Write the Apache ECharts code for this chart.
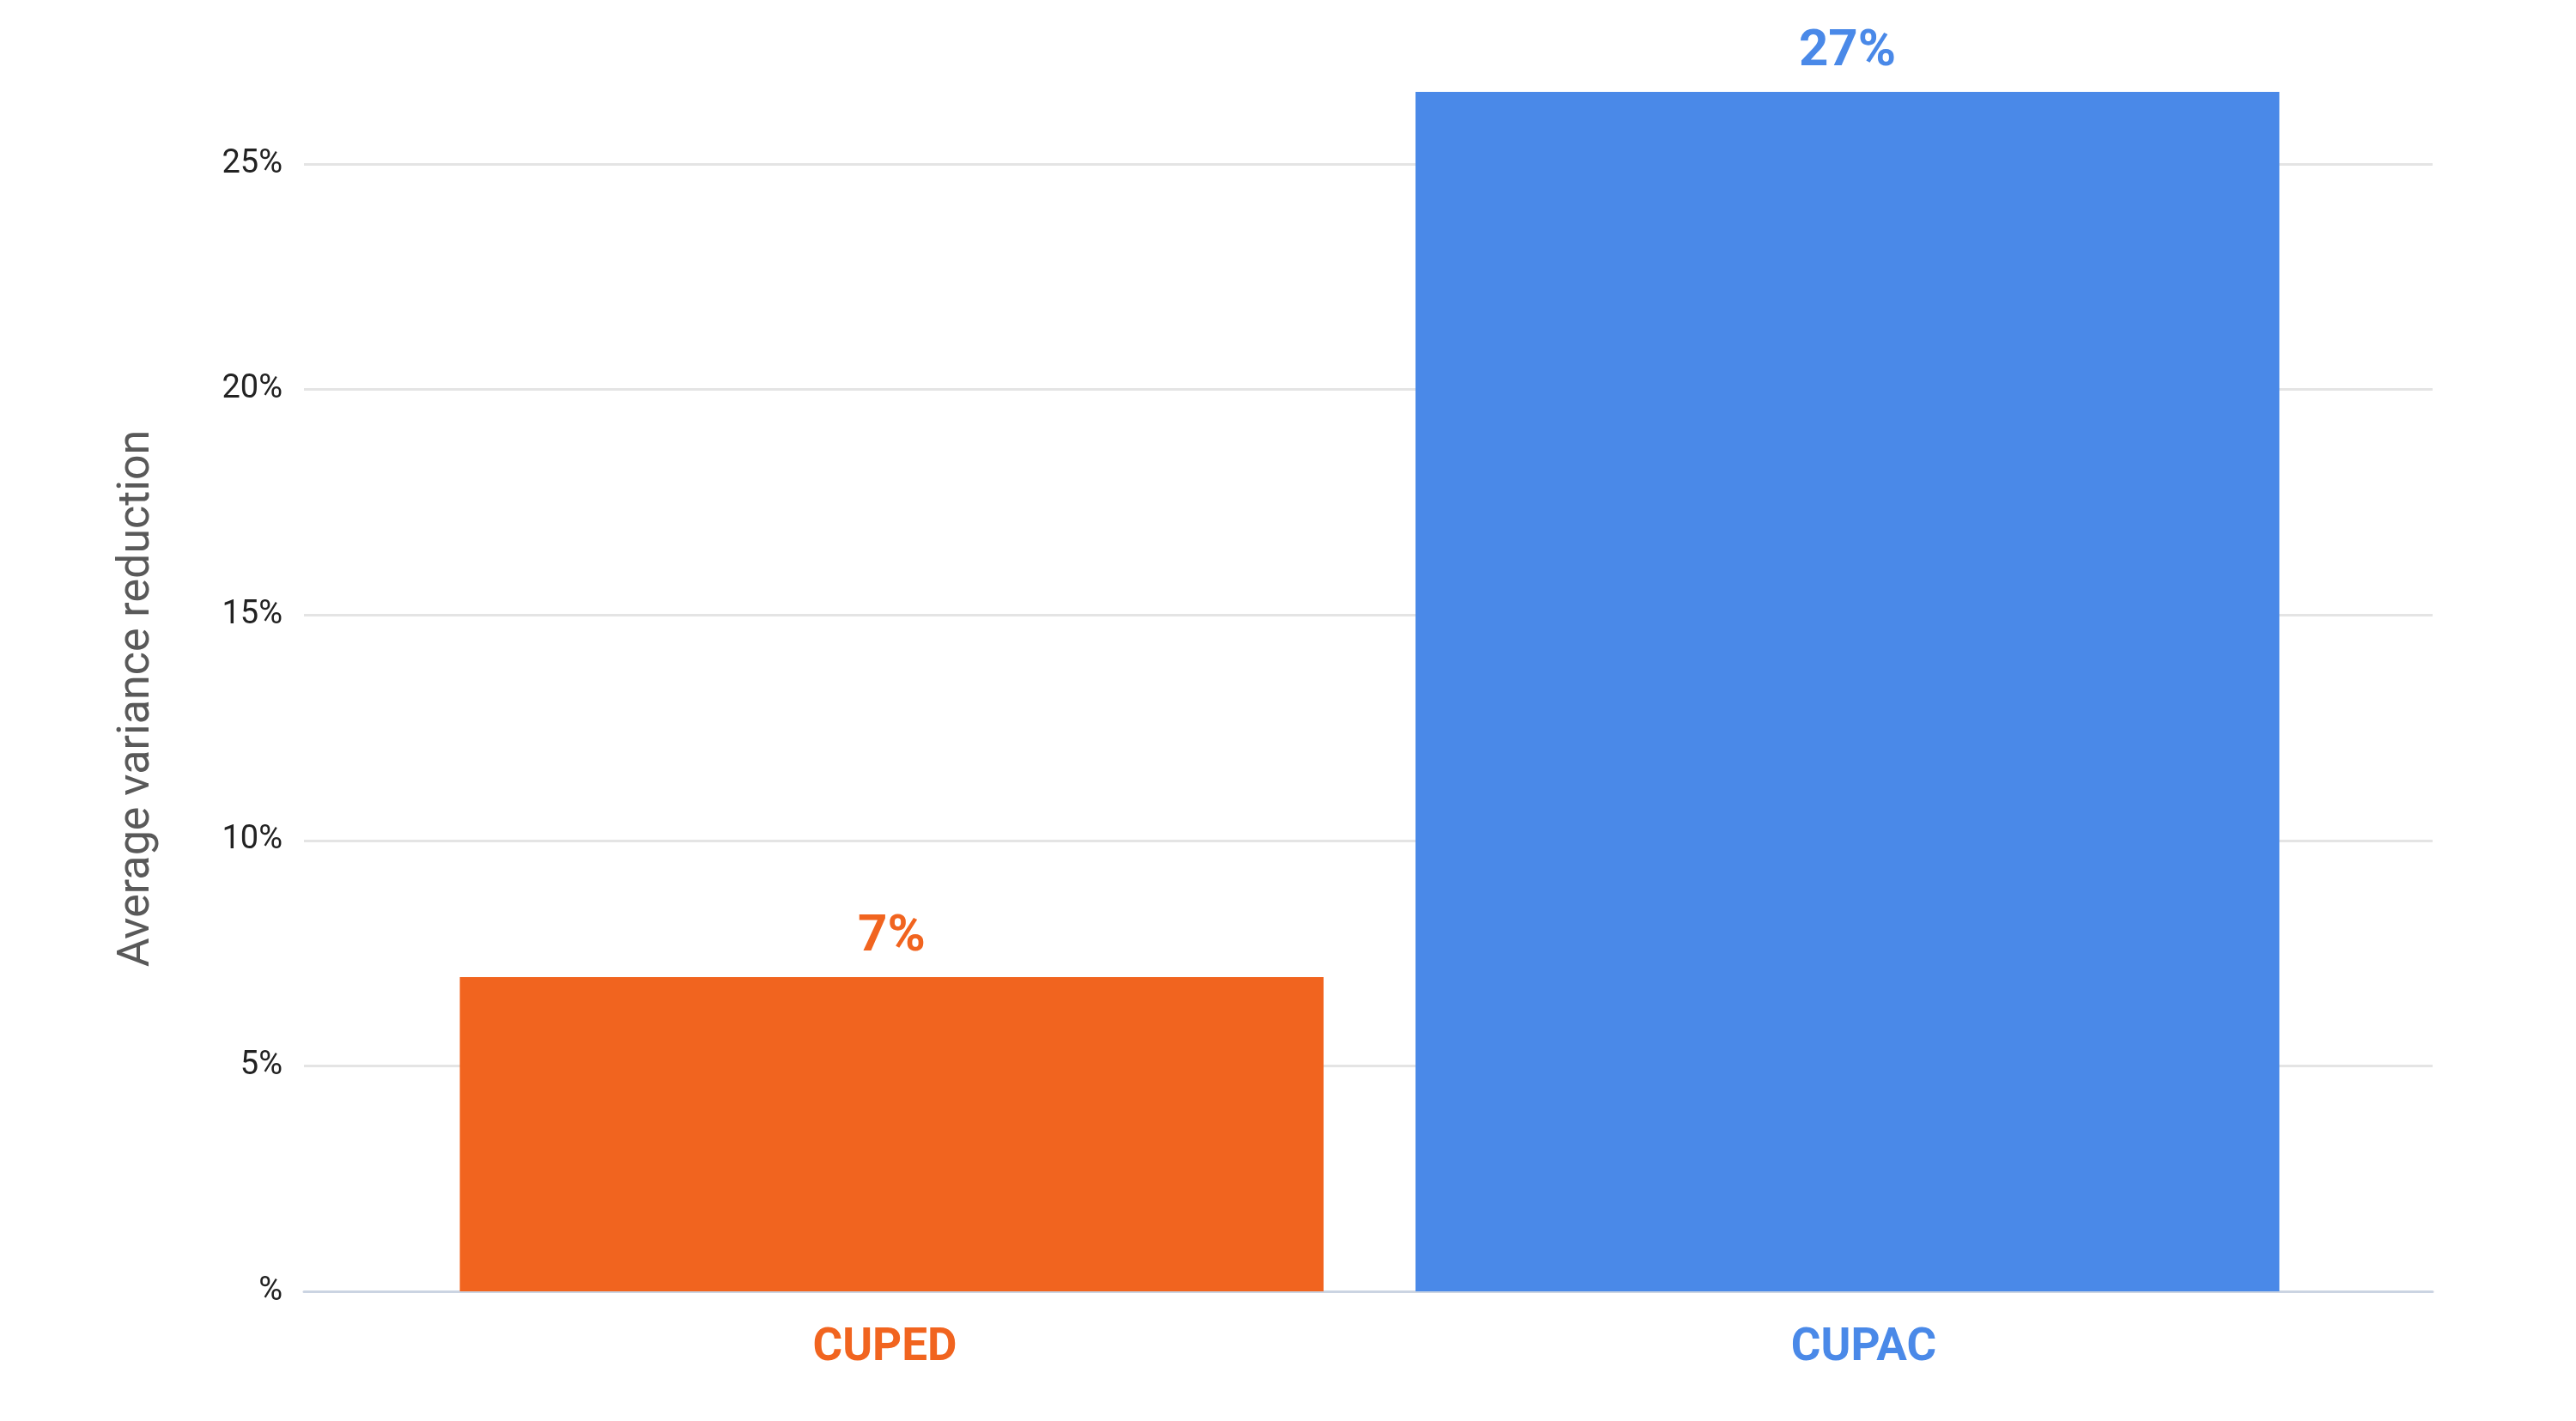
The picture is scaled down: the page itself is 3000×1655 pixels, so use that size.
<!DOCTYPE html>
<html>
<head>
<meta charset="utf-8">
<script src="https://cdn.jsdelivr.net/npm/echarts@6/dist/echarts.min.js"></script>
<style>
html,body{margin:0;padding:0;background:#fff;}
#chart{width:3000px;height:1655px;}
</style>
</head>
<body>
<div id="chart"></div>
<script>
// Data
var categories = ['CUPED', 'CUPAC'];
var varianceReduction = [6.97, 26.6];
var barColors = ['#F1641F', '#4A89E8'];
var yTicks = [0, 5, 10, 15, 20, 25];
var axisTitle = 'Average variance reduction';

var chart = echarts.init(document.getElementById('chart'));
var font = 'Roboto';
var option = {
  backgroundColor: '#ffffff',
  animation: false,
  textStyle: { fontFamily: font },
  grid: [
    { left: 354, right: 167, top: 191, bottom: 151 },
    { left: 482, width: 2226, top: 191, bottom: 151 }
  ],
  xAxis: [
    {
      gridIndex: 0, type: 'category', data: categories,
      axisLine: { show: true, lineStyle: { color: '#CBD4E2', width: 3 } },
      axisTick: { show: false }, axisLabel: { show: false }, splitLine: { show: false }
    },
    {
      gridIndex: 1, type: 'category', data: categories,
      axisLine: { show: false }, axisTick: { show: false },
      axisLabel: {
        show: true, margin: 40,
        formatter: function (v) { return '{c' + categories.indexOf(v) + '|' + v + '}'; },
        rich: {
          c0: { fontFamily: font, fontWeight: 'bold', fontSize: 53, color: barColors[0], padding: [0, 16, 0, 0] },
          c1: { fontFamily: font, fontWeight: 'bold', fontSize: 53, color: barColors[1], padding: [0, 0, 0, 38] }
        }
      }
    }
  ],
  yAxis: [
    {
      gridIndex: 0, type: 'value', min: yTicks[0], max: yTicks[yTicks.length - 1], interval: yTicks[1] - yTicks[0],
      name: axisTitle, nameLocation: 'middle', nameRotate: 90, nameGap: 168,
      nameTextStyle: { fontFamily: font, fontSize: 52, color: '#595959', padding: [0, 0, 0, 68] },
      axisLine: { show: false }, axisTick: { show: false },
      axisLabel: {
        fontFamily: font, fontSize: 38, color: '#222222', margin: 25,
        formatter: function (v) { return v === 0 ? '%' : v + '%'; }
      },
      splitLine: { show: true, lineStyle: { color: '#E4E4E4', width: 3 } }
    },
    {
      gridIndex: 1, type: 'value', min: yTicks[0], max: yTicks[yTicks.length - 1], show: false,
      splitLine: { show: false }
    }
  ],
  series: [
    {
      type: 'bar', xAxisIndex: 1, yAxisIndex: 1, clip: false,
      barWidth: 1006,
      data: varianceReduction.map(function (v, i) {
        return {
          value: v,
          itemStyle: { color: barColors[i] },
          label: { color: barColors[i] }
        };
      }),
      label: {
        show: true, position: 'top', distance: 16,
        fontFamily: font, fontWeight: 'bold', fontSize: 60,
        formatter: function (p) { return Math.round(p.value) + '%'; }
      }
    }
  ]
};
chart.setOption(option);
</script>
</body>
</html>
